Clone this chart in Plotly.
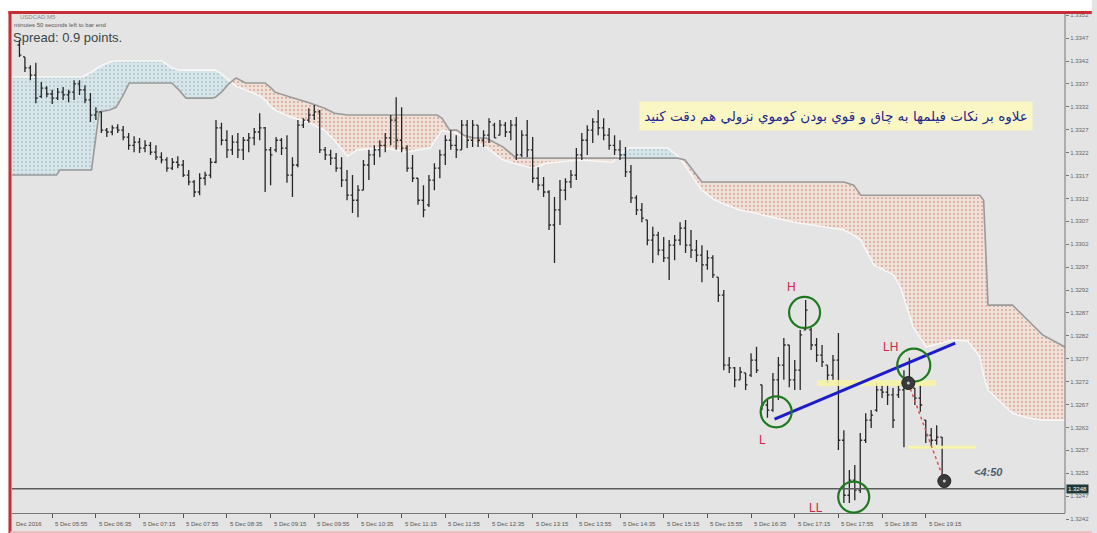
import plotly.graph_objects as go

# ---------------- data ----------------
bar_index = list(range(170))

open_ = [1.33455,1.33429,1.33405,1.33389,1.33343,1.33361,1.33348,1.33339,1.33352,1.33346,
1.33352,1.33370,1.33357,1.33335,1.33302,1.33309,1.33269,1.33265,1.33274,1.33269,
1.33254,1.33236,1.33243,1.33230,1.33236,1.33221,1.33210,1.33204,1.33186,1.33199,
1.33193,1.33171,1.33156,1.33134,1.33164,1.33171,1.33199,1.33274,1.33247,1.33226,
1.33243,1.33226,1.33247,1.33252,1.33265,1.33274,1.33226,1.33226,1.33247,1.33230,
1.33171,1.33193,1.33280,1.33291,1.33302,1.33309,1.33226,1.33215,1.33208,1.33186,
1.33160,1.33127,1.33116,1.33138,1.33193,1.33215,1.33226,1.33236,1.33252,1.33291,
1.33247,1.33230,1.33186,1.33164,1.33116,1.33106,1.33160,1.33186,1.33215,1.33247,
1.33236,1.33226,1.33280,1.33247,1.33280,1.33247,1.33258,1.33280,1.33258,1.33280,
1.33265,1.33280,1.33215,1.33258,1.33226,1.33164,1.33149,1.33134,1.33062,1.33095,
1.33138,1.33156,1.33171,1.33215,1.33247,1.33269,1.33287,1.33274,1.33258,1.33236,
1.33226,1.33215,1.33178,1.33121,1.33095,1.33073,1.33029,1.33040,1.33007,1.32990,
1.33018,1.33029,1.33055,1.33018,1.33007,1.32996,1.32975,1.32990,1.32948,1.32909,
1.32756,1.32750,1.32724,1.32739,1.32734,1.32767,1.32713,1.32669,1.32658,1.32724,
1.32756,1.32800,1.32724,1.32745,1.32833,1.32833,1.32800,1.32778,1.32756,1.32734,
1.32767,1.32592,1.32472,1.32505,1.32483,1.32592,1.32636,1.32658,1.32702,1.32697,
1.32691,1.32691,1.32702,1.32724,1.32706,1.32684,1.32636,1.32603,1.32592,1.32599]

high = [1.33466,1.33429,1.33411,1.33416,1.33374,1.33365,1.33357,1.33361,1.33363,1.33357,
1.33378,1.33378,1.33367,1.33350,1.33319,1.33309,1.33274,1.33280,1.33282,1.33278,
1.33263,1.33256,1.33252,1.33247,1.33243,1.33236,1.33221,1.33210,1.33208,1.33212,
1.33204,1.33182,1.33160,1.33175,1.33178,1.33208,1.33291,1.33285,1.33269,1.33258,
1.33263,1.33254,1.33263,1.33274,1.33306,1.33276,1.33232,1.33254,1.33252,1.33258,
1.33210,1.33291,1.33295,1.33317,1.33324,1.33313,1.33232,1.33226,1.33219,1.33210,
1.33182,1.33171,1.33149,1.33204,1.33226,1.33236,1.33247,1.33263,1.33302,1.33341,
1.33319,1.33236,1.33215,1.33164,1.33149,1.33171,1.33197,1.33226,1.33258,1.33269,
1.33258,1.33291,1.33291,1.33291,1.33280,1.33269,1.33295,1.33285,1.33291,1.33287,
1.33291,1.33298,1.33269,1.33291,1.33254,1.33188,1.33167,1.33138,1.33123,1.33160,
1.33164,1.33182,1.33230,1.33263,1.33280,1.33295,1.33313,1.33295,1.33274,1.33258,
1.33247,1.33232,1.33193,1.33127,1.33110,1.33073,1.33058,1.33047,1.33036,1.33029,
1.33040,1.33068,1.33073,1.33051,1.33029,1.33018,1.33007,1.32996,1.32948,1.32920,
1.32774,1.32752,1.32752,1.32739,1.32782,1.32796,1.32713,1.32680,1.32739,1.32774,
1.32815,1.32800,1.32767,1.32833,1.32898,1.32837,1.32815,1.32800,1.32756,1.32778,
1.32826,1.32614,1.32527,1.32538,1.32608,1.32651,1.32658,1.32717,1.32713,1.32713,
1.32706,1.32713,1.32745,1.32772,1.32706,1.32713,1.32636,1.32619,1.32625,1.32599]

low = [1.33429,1.33396,1.33378,1.33328,1.33339,1.33341,1.33326,1.33335,1.33335,1.33330,
1.33335,1.33346,1.33328,1.33287,1.33291,1.33263,1.33254,1.33258,1.33263,1.33247,
1.33226,1.33221,1.33219,1.33221,1.33215,1.33204,1.33197,1.33178,1.33182,1.33186,
1.33167,1.33149,1.33123,1.33127,1.33149,1.33164,1.33197,1.33236,1.33208,1.33215,
1.33208,1.33204,1.33221,1.33236,1.33247,1.33134,1.33149,1.33221,1.33215,1.33154,
1.33123,1.33188,1.33274,1.33285,1.33291,1.33219,1.33204,1.33193,1.33178,1.33145,
1.33116,1.33088,1.33079,1.33138,1.33160,1.33193,1.33210,1.33221,1.33236,1.33226,
1.33221,1.33178,1.33156,1.33106,1.33079,1.33101,1.33138,1.33164,1.33193,1.33226,
1.33208,1.33226,1.33230,1.33232,1.33232,1.33232,1.33241,1.33252,1.33258,1.33254,
1.33247,1.33204,1.33210,1.33210,1.33154,1.33138,1.33123,1.33051,1.32979,1.33062,
1.33116,1.33143,1.33160,1.33204,1.33215,1.33241,1.33258,1.33247,1.33226,1.33215,
1.33204,1.33167,1.33110,1.33084,1.33068,1.33018,1.32979,1.32996,1.32981,1.32942,
1.32985,1.33018,1.33001,1.32990,1.32981,1.32937,1.32964,1.32946,1.32894,1.32745,
1.32739,1.32708,1.32724,1.32702,1.32730,1.32739,1.32658,1.32641,1.32654,1.32680,
1.32724,1.32708,1.32702,1.32702,1.32833,1.32789,1.32763,1.32752,1.32717,1.32724,
1.32571,1.32455,1.32455,1.32461,1.32477,1.32586,1.32619,1.32654,1.32684,1.32669,
1.32619,1.32684,1.32577,1.32706,1.32669,1.32654,1.32586,1.32577,1.32582,1.32501]

close = [1.33433,1.33405,1.33389,1.33339,1.33361,1.33348,1.33339,1.33352,1.33346,1.33352,
1.33370,1.33357,1.33335,1.33302,1.33309,1.33269,1.33265,1.33274,1.33269,1.33254,
1.33236,1.33243,1.33230,1.33236,1.33221,1.33210,1.33204,1.33186,1.33199,1.33193,
1.33171,1.33156,1.33134,1.33164,1.33171,1.33199,1.33274,1.33247,1.33226,1.33243,
1.33226,1.33247,1.33252,1.33265,1.33274,1.33226,1.33215,1.33247,1.33230,1.33171,
1.33193,1.33280,1.33291,1.33302,1.33309,1.33226,1.33215,1.33208,1.33186,1.33160,
1.33127,1.33116,1.33138,1.33193,1.33215,1.33226,1.33236,1.33252,1.33291,1.33247,
1.33230,1.33186,1.33164,1.33116,1.33095,1.33160,1.33186,1.33215,1.33247,1.33236,
1.33226,1.33280,1.33247,1.33280,1.33247,1.33258,1.33287,1.33252,1.33280,1.33265,
1.33280,1.33215,1.33258,1.33226,1.33164,1.33149,1.33134,1.33062,1.33095,1.33138,
1.33156,1.33171,1.33215,1.33247,1.33269,1.33287,1.33274,1.33258,1.33236,1.33226,
1.33215,1.33178,1.33121,1.33095,1.33077,1.33029,1.33040,1.33007,1.32990,1.33018,
1.33029,1.33055,1.33018,1.33007,1.32996,1.32975,1.32990,1.32953,1.32909,1.32756,
1.32750,1.32724,1.32741,1.32713,1.32767,1.32745,1.32669,1.32658,1.32724,1.32756,
1.32800,1.32724,1.32745,1.32822,1.32876,1.32800,1.32778,1.32763,1.32734,1.32767,
1.32592,1.32472,1.32505,1.32483,1.32592,1.32636,1.32647,1.32702,1.32697,1.32691,
1.32636,1.32702,1.32724,1.32713,1.32684,1.32669,1.32603,1.32592,1.32599,1.32503]

# Ichimoku cloud (Senkou Span A / B), shifted forward
cloud_x = [-1.7,6.8,7.4,11.5,13.2,14.6,16.5,17.7,18.8,20.1,26.1,27.9,29.2,30.5,35.2,35.9,37.0,38.3,39.7,41.4,
43.7,45.0,46.1,46.8,49.7,52.8,55.9,57.7,60.1,61.9,66.1,69.2,70.5,75.2,76.5,77.4,78.8,80.1,81.4,83.2,
85.5,88.6,91.0,94.1,96.5,98.3,102.5,108.6,110.5,111.5,118.8,120.6,121.9,123.7,125.0,127.4,131.9,134.6,141.9,151.0,
152.8,154.1,156.5,158.3,160.1,161.4,163.7,166.1,171.0,173.7,175.9,176.6,177.4,178.8,181.9,184.6,187.4,191.9]
span_a = [1.33385,1.33385,1.33385,1.33385,1.33396,1.33407,1.33418,1.33420,1.33420,1.33420,1.33420,1.33405,1.33400,1.33400,1.33400,1.33400,1.33392,1.33378,1.33365,1.33357,
1.33346,1.33335,1.33319,1.33313,1.33298,1.33287,1.33269,1.33247,1.33212,1.33226,1.33230,1.33226,1.33221,1.33230,1.33252,1.33269,1.33265,1.33263,1.33252,1.33243,
1.33232,1.33204,1.33195,1.33186,1.33197,1.33199,1.33204,1.33199,1.33221,1.33230,1.33230,1.33212,1.33193,1.33160,1.33138,1.33116,1.33095,1.33088,1.33068,1.33051,
1.33040,1.33029,1.32975,1.32964,1.32953,1.32926,1.32839,1.32796,1.32811,1.32809,1.32774,1.32734,1.32702,1.32686,1.32651,1.32641,1.32636,1.32636]
span_b = [1.33171,1.33171,1.33182,1.33182,1.33182,1.33309,1.33313,1.33319,1.33341,1.33372,1.33372,1.33372,1.33357,1.33339,1.33339,1.33341,1.33352,1.33370,1.33383,1.33372,
1.33372,1.33372,1.33361,1.33352,1.33341,1.33330,1.33317,1.33306,1.33302,1.33302,1.33302,1.33302,1.33302,1.33302,1.33302,1.33295,1.33269,1.33269,1.33258,1.33252,
1.33252,1.33232,1.33208,1.33208,1.33208,1.33208,1.33208,1.33208,1.33208,1.33208,1.33208,1.33208,1.33204,1.33175,1.33156,1.33156,1.33156,1.33156,1.33156,1.33156,
1.33149,1.33127,1.33127,1.33127,1.33127,1.33127,1.33127,1.33127,1.33127,1.33127,1.33127,1.33116,1.32887,1.32887,1.32887,1.32855,1.32822,1.32793]

price_ticks = [1.3242,1.3247,1.3252,1.3257,1.3262,1.3267,1.3272,1.3277,1.3282,1.3287,1.3292,1.3297,
               1.3302,1.3307,1.3312,1.3317,1.3322,1.3327,1.3332,1.3337,1.3342,1.3347,1.3352]
price_labels = ["%.4f" % p for p in price_ticks]

time_tick_pos = [6,14,22,30,38,46,54,62,70,78,86,94,102,110,118,126,134,142,150,158,166]
time_labels = ["5 Dec 05:55","5 Dec 06:35","5 Dec 07:15","5 Dec 07:55","5 Dec 08:35","5 Dec 09:15",
               "5 Dec 09:55","5 Dec 10:35","5 Dec 11:15","5 Dec 11:55","5 Dec 12:35","5 Dec 13:15",
               "5 Dec 13:55","5 Dec 14:35","5 Dec 15:15","5 Dec 15:55","5 Dec 16:35","5 Dec 17:15",
               "5 Dec 17:55","5 Dec 18:35","5 Dec 19:15"]
bid = 1.32486

X_RANGE = [-1.364, 191.5]
Y_RANGE = [1.32407, 1.33527]

# ---------------- figure ----------------
fig = go.Figure()
upper = [max(a, b) for a, b in zip(span_a, span_b)]

# bullish cloud (A above B)
fig.add_trace(go.Scatter(x=cloud_x, y=span_b, mode="lines", line=dict(width=0), hoverinfo="skip"))
fig.add_trace(go.Scatter(x=cloud_x, y=upper, mode="lines", line=dict(width=0), fill="tonexty",
                         fillcolor="#d6e5e9",
                         fillpattern=dict(shape=".", bgcolor="#d7e5e9", fgcolor="#a9c7cf",
                                          size=4, solidity=0.18, fillmode="replace"),
                         hoverinfo="skip"))
# bearish cloud (B above A)
fig.add_trace(go.Scatter(x=cloud_x, y=span_a, mode="lines", line=dict(width=0), hoverinfo="skip"))
fig.add_trace(go.Scatter(x=cloud_x, y=upper, mode="lines", line=dict(width=0), fill="tonexty",
                         fillcolor="#eedfd7",
                         fillpattern=dict(shape=".", bgcolor="#efe0d8", fgcolor="#d9a496",
                                          size=4, solidity=0.18, fillmode="replace"),
                         hoverinfo="skip"))
fig.add_trace(go.Scatter(x=cloud_x, y=span_a, mode="lines", line=dict(color="#f7f7f7", width=1.6)))
fig.add_trace(go.Scatter(x=cloud_x, y=span_b, mode="lines", line=dict(color="#9a9a9a", width=1.6)))

# price bars on an overlaying axis pair so they are drawn above the cloud
fig.add_trace(go.Ohlc(x=bar_index, open=open_, high=high, low=low, close=close,
                      xaxis="x2", yaxis="y2",
                      increasing=dict(line=dict(color="#262626", width=1.3)),
                      decreasing=dict(line=dict(color="#262626", width=1.3)),
                      tickwidth=0.35))

W, H = 1097, 533
L_, R_, T_, B_ = 12, 24, 12, 8
pw, ph = W - L_ - R_, H - T_ - B_
def px(x):
    return (x - L_) / pw
def py(y):
    return (H - B_ - y) / ph

shapes = []
# bid line
shapes.append(dict(type="line", xref="paper", yref="y", x0=0, x1=1, y0=bid, y1=bid,
                   line=dict(color="#5c5c5c", width=1.6), layer="above"))
# right frame line
shapes.append(dict(type="line", xref="paper", yref="paper", x0=1, x1=1, y0=py(513), y1=1,
                   line=dict(color="#777777", width=1)))
# yellow highlight bars
shapes.append(dict(type="line", xref="x", yref="y", x0=146.1, x1=167.9, y0=1.32717, y1=1.32717,
                   line=dict(color="rgba(248,244,165,0.85)", width=6), layer="above"))
shapes.append(dict(type="line", xref="x", yref="y", x0=162.8, x1=175.2, y0=1.32577, y1=1.32577,
                   line=dict(color="rgba(248,244,165,0.95)", width=3), layer="above"))
# blue trend line
shapes.append(dict(type="line", xref="x", yref="y", x0=138.3, x1=171.4, y0=1.32638, y1=1.32804,
                   line=dict(color="#1c1cc8", width=3), layer="above"))
# red dotted path
shapes.append(dict(type="line", xref="x", yref="y", x0=162.8, x1=169.4, y0=1.32717, y1=1.32503,
                   line=dict(color="#e05050", width=1.5, dash="dot"), layer="above"))
# green circles
for cx, cy, r in [(143.8, 1.32871, 15.5), (138.6, 1.32654, 15.5), (163.8, 1.32756, 16.5), (152.8, 1.32468, 15.5)]:
    shapes.append(dict(type="circle", xref="x", yref="y", xsizemode="pixel", ysizemode="pixel",
                       xanchor=cx, yanchor=cy, x0=-r, x1=r, y0=-r, y1=r,
                       line=dict(color="#1f7a1f", width=2.2), layer="above"))
# dark dots
for cx, cy in [(162.8, 1.32717), (169.4, 1.32503)]:
    shapes.append(dict(type="circle", xref="x", yref="y", xsizemode="pixel", ysizemode="pixel",
                       xanchor=cx, yanchor=cy, x0=-6.5, x1=6.5, y0=-6.5, y1=6.5,
                       fillcolor="#3a3a3a", line=dict(color="#222222", width=1), layer="above"))
    shapes.append(dict(type="circle", xref="x", yref="y", xsizemode="pixel", ysizemode="pixel",
                       xanchor=cx, yanchor=cy, x0=-1.5, x1=1.5, y0=-1.5, y1=1.5,
                       fillcolor="#c8c8c8", line=dict(width=0), layer="above"))
# white outside strips + red frame
shapes.append(dict(type="rect", xref="paper", yref="paper", x0=px(-5), x1=px(1100), y0=py(11), y1=py(-5),
                   fillcolor="white", line=dict(width=0), layer="above"))
shapes.append(dict(type="rect", xref="paper", yref="paper", x0=px(-5), x1=px(8.5), y0=py(540), y1=py(-5),
                   fillcolor="white", line=dict(width=0), layer="above"))
shapes.append(dict(type="line", xref="paper", yref="paper", x0=px(8.5), x1=px(1100), y0=py(12.5), y1=py(12.5),
                   line=dict(color="#c62e36", width=3), layer="above"))
shapes.append(dict(type="line", xref="paper", yref="paper", x0=px(10), x1=px(10), y0=py(11), y1=py(540),
                   line=dict(color="#c62e36", width=3), layer="above"))
shapes.append(dict(type="line", xref="paper", yref="paper", x0=px(10), x1=px(1100), y0=py(532), y1=py(532),
                   line=dict(color="#eeb4b4", width=1.5), layer="above"))

ann = []
for pos, lab in zip(time_tick_pos, time_labels):
    ann.append(dict(x=pos, y=py(524), xref="x", yref="paper", text=lab, showarrow=False,
                    xanchor="left", yanchor="middle", xshift=1,
                    font=dict(size=6, color="#555555", family="Liberation Sans")))
ann.append(dict(x=px(14), y=py(524), xref="paper", yref="paper", text="Dec 2016", showarrow=False,
                xanchor="left", yanchor="middle", font=dict(size=6, color="#555555", family="Liberation Sans")))
ann.append(dict(x=1.0, y=bid, xref="paper", yref="y", text="1.3248", showarrow=False, xanchor="left",
                yanchor="middle", xshift=1, bgcolor="#1d3a3a", borderpad=1,
                font=dict(size=6, color="white", family="Liberation Sans")))
ann.append(dict(x=px(18), y=py(17), xref="paper", yref="paper", text="USDCAD,M5", showarrow=False,
                xanchor="left", yanchor="middle", font=dict(size=6, color="#888888", family="Liberation Sans")))
ann.append(dict(x=px(12), y=py(25), xref="paper", yref="paper", text="minutes 50 seconds left to bar end",
                showarrow=False, xanchor="left", yanchor="middle",
                font=dict(size=6, color="#555555", family="Liberation Sans")))
ann.append(dict(x=px(11), y=py(37), xref="paper", yref="paper", text="Spread: 0.9 points.", showarrow=False,
                xanchor="left", yanchor="middle", font=dict(size=13, color="#3a4646", family="Liberation Sans")))
ann.append(dict(x=px(842), y=py(116), xref="paper", yref="paper",
                text="علاوه بر نکات فیلمها به چاق و قوي بودن کوموي نزولي هم دقت کنید",
                showarrow=False, xanchor="center", yanchor="middle", width=390, height=26,
                bgcolor="#fbf7c4", font=dict(size=13.5, color="#1c2790", family="DejaVu Sans")))
for tx, x, y in [("H", 141.4, 1.32926), ("L", 136.1, 1.32592), ("LH", 159.5, 1.32796), ("LL", 145.9, 1.32444)]:
    ann.append(dict(x=x, y=y, xref="x", yref="y", text=tx, showarrow=False, xanchor="center", yanchor="middle",
                    font=dict(size=12, color="#d0284a", family="Liberation Sans")))
ann.append(dict(x=177.4, y=1.32523, xref="x", yref="y", text="<i><b><4:50</b></i>", showarrow=False,
                xanchor="center", yanchor="middle", font=dict(size=11, color="#4e5e6e", family="Liberation Sans")))

fig.update_layout(
    width=W, height=H, margin=dict(l=L_, r=R_, t=T_, b=B_),
    paper_bgcolor="#e4e4e4", plot_bgcolor="#e4e4e4", showlegend=False,
    shapes=shapes, annotations=ann,
    xaxis=dict(range=X_RANGE, rangeslider=dict(visible=False), showgrid=False, zeroline=False,
               tickvals=time_tick_pos, ticks="outside", ticklen=4, tickcolor="#555555",
               showticklabels=False, anchor="free", position=py(513),
               showline=True, linecolor="#777777", linewidth=1),
    yaxis=dict(range=Y_RANGE, side="right", tickvals=price_ticks, ticktext=price_labels,
               ticks="outside", ticklen=3, tickcolor="#777777",
               tickfont=dict(size=6, color="#666666", family="Liberation Sans"),
               showgrid=False, zeroline=False, showline=False),
    xaxis2=dict(range=X_RANGE, overlaying="x", anchor="y2", visible=False,
                rangeslider=dict(visible=False), showgrid=False, zeroline=False),
    yaxis2=dict(range=Y_RANGE, overlaying="y", anchor="x2", side="right", visible=False,
                showgrid=False, zeroline=False),
)

fig.write_html("out.html", config={"displayModeBar": False},
               post_script="document.body.style.margin='0px';document.body.style.overflow='hidden';")
